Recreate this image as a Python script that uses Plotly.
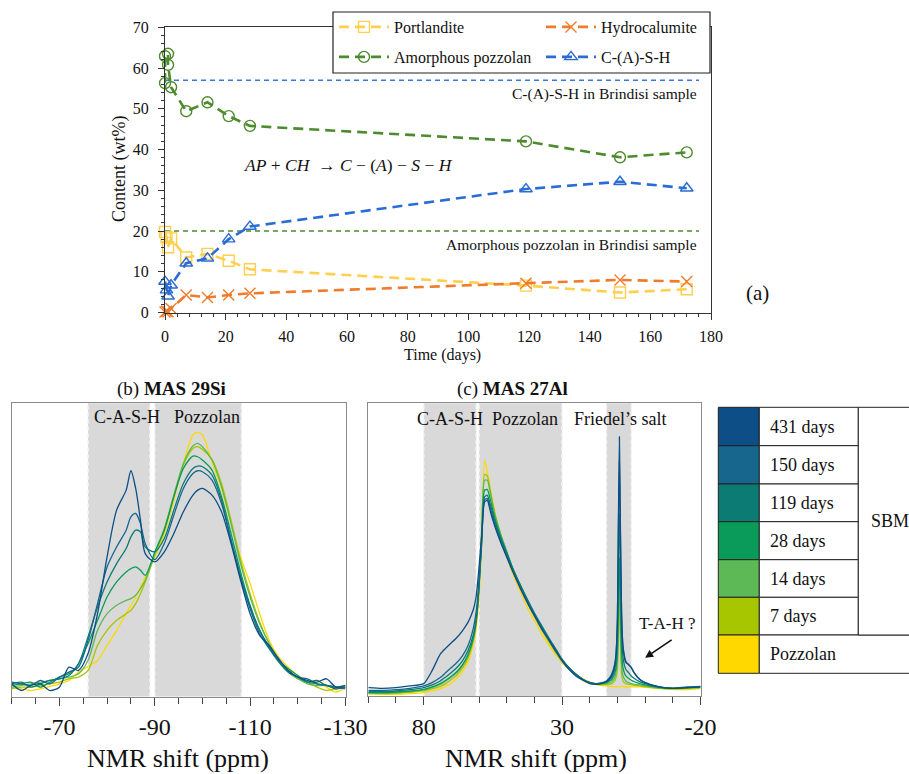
import plotly.graph_objects as go

W, H = 909, 774
def px(x): return x / W
def py(y): return 1 - y / H

SERIF = "Liberation Serif, 'Times New Roman', serif"

# ---------------- (a) time series ----------------
t_portlandite = [0, 0.5, 1, 2, 7, 14, 21, 28, 119, 150, 172]
portlandite = [19.8, 18.5, 16.0, 18.2, 13.5, 14.4, 12.7, 10.6, 6.6, 4.9, 5.7]
t_hydrocalumite = [0, 0.5, 1, 2, 7, 14, 21, 28, 119, 150, 172]
hydrocalumite = [0.1, 0.3, 0.2, 1.0, 4.3, 3.7, 4.3, 4.7, 7.2, 8.0, 7.6]
t_pozzolan = [0, 0, 1, 1, 2, 7, 14, 21, 28, 119, 150, 172]
amorphous_pozzolan = [56.3, 62.9, 63.5, 60.8, 55.3, 49.4, 51.6, 48.2, 45.8, 42.0, 38.1, 39.3]
t_cash = [0, 0.5, 1, 2, 7, 14, 21, 28, 119, 150, 172]
cash = [7.6, 5.5, 4.0, 6.7, 12.1, 13.3, 18.0, 21.1, 30.3, 32.1, 30.5]
cash_brindisi = 57
ap_brindisi = 20

# ---------------- (b) 29Si spectra (relative intensity) ----------------
si_shift = [-60, -62, -64, -66, -68, -70, -72, -74, -76, -78, -80, -82, -84, -85, -86, -87, -88,
            -90, -92, -94, -96, -98, -99, -100, -102, -104, -106, -108, -110, -112, -114, -116,
            -118, -120, -122, -124, -126, -128, -130]
si_pozzolan = [28, 23, 18, 23, 30, 38, 48, 73, 90, 108, 153, 198, 248, 273, 298, 328, 358, 418, 488, 588,
               698, 783, 791, 783, 703, 623, 518, 418, 338, 248, 168, 118, 88, 63, 43, 48, 28, 13, 28]
si_7d = [23, 28, 28, 33, 38, 43, 53, 58, 78, 153, 198, 228, 248, 258, 278, 308, 343, 423, 498, 598,
         693, 743, 748, 740, 710, 638, 528, 408, 308, 223, 158, 108, 73, 53, 43, 28, 18, 23, 28]
si_14d = [28, 33, 38, 43, 48, 53, 58, 68, 108, 198, 248, 273, 288, 293, 303, 323, 348, 428, 503, 603,
          698, 750, 758, 748, 708, 628, 518, 398, 298, 218, 158, 108, 73, 53, 38, 33, 33, 28, 33]
si_28d = [33, 38, 43, 28, 43, 58, 68, 98, 158, 228, 298, 343, 373, 383, 388, 378, 363, 433, 498, 598,
          683, 720, 718, 708, 678, 598, 488, 373, 273, 198, 148, 108, 83, 63, 43, 38, 33, 28, 28]
si_119d = [38, 43, 28, 38, 48, 53, 63, 98, 178, 268, 343, 398, 443, 478, 498, 493, 448, 433, 473, 558,
           638, 683, 690, 688, 663, 588, 468, 358, 263, 188, 143, 103, 73, 58, 43, 48, 33, 28, 23]
si_150d = [43, 38, 33, 48, 38, 58, 73, 88, 168, 278, 388, 448, 498, 538, 548, 518, 458, 410, 458, 543,
           623, 668, 676, 673, 648, 578, 468, 358, 268, 198, 148, 108, 78, 58, 53, 38, 33, 23, 28]
si_431d = [38, 18, 33, 38, 18, 28, 88, 78, 128, 248, 418, 558, 618, 676, 623, 528, 428, 403, 433, 488,
           553, 603, 618, 623, 603, 553, 458, 348, 248, 183, 153, 113, 78, 58, 48, 43, 53, 28, 33]
si_ticks = [-70, -90, -110, -130]
si_ticktext = ["-70", "-90", "-110", "-130"]

# ---------------- (c) 27Al spectra (relative intensity) ----------------
al_shift = [100, 95, 90, 85, 80, 77, 74, 72, 70, 68, 66, 64, 62, 61, 60, 59, 58, 57, 56, 55,
            54, 52, 50, 48, 45, 42, 40, 37, 35, 32, 30, 27, 25, 22, 20, 18, 16, 14, 13, 12,
            11, 10.5, 10, 9.7, 9.3, 8.9, 8.5, 8, 7, 6, 5, 4, 2, 0, -5, -10, -15, -20]
al_pozzolan = [7, 5, 5, 7, 10, 15, 22, 29, 39, 53, 73, 103, 157, 205, 295, 465, 705, 670, 625, 580,
               540, 475, 420, 370, 310, 255, 225, 180, 155, 120, 100, 77, 65, 50, 42, 35, 32, 30, 29, 28,
               28, 28, 28, 28, 28, 28, 28, 28, 27, 27, 27, 27, 27, 26, 23, 20, 19, 23]
al_7d = [7, 7, 8, 11, 15, 21, 29, 37, 49, 63, 83, 113, 167, 220, 325, 505, 663, 657, 617, 573,
         535, 477, 429, 380, 322, 270, 237, 192, 165, 127, 103, 75, 61, 45, 39, 35, 34, 34, 35, 37,
         45, 55, 80, 155, 300, 155, 65, 45, 37, 35, 33, 32, 30, 28, 23, 21, 23, 25]
al_14d = [9, 9, 10, 13, 18, 25, 35, 45, 57, 70, 90, 120, 173, 225, 325, 495, 645, 645, 610, 570,
          535, 480, 433, 385, 327, 275, 243, 197, 170, 130, 105, 77, 63, 47, 40, 37, 36, 37, 39, 43,
          55, 70, 105, 205, 370, 205, 95, 60, 45, 40, 37, 35, 33, 30, 25, 23, 23, 25]
al_28d = [10, 10, 12, 15, 20, 27, 37, 47, 59, 73, 93, 123, 175, 225, 325, 485, 615, 617, 590, 555,
          523, 473, 430, 385, 330, 278, 245, 200, 173, 133, 107, 79, 65, 47, 40, 37, 37, 40, 44, 50,
          67, 85, 140, 265, 415, 265, 135, 85, 60, 53, 47, 43, 37, 33, 25, 23, 25, 27]
al_119d = [13, 13, 15, 19, 25, 33, 45, 57, 70, 85, 105, 135, 185, 235, 325, 465, 595, 600, 575, 545,
           515, 467, 427, 385, 330, 280, 248, 205, 177, 137, 110, 80, 65, 47, 40, 37, 38, 42, 48, 57,
           80, 105, 185, 365, 545, 365, 185, 115, 80, 70, 60, 53, 43, 37, 27, 23, 25, 27]
al_150d = [17, 17, 19, 23, 30, 40, 55, 70, 85, 100, 120, 150, 205, 255, 345, 465, 587, 590, 565, 535,
           507, 460, 420, 380, 325, 275, 245, 200, 173, 133, 107, 80, 65, 47, 40, 37, 39, 45, 53, 67,
           95, 130, 235, 465, 700, 465, 245, 150, 105, 93, 85, 70, 50, 40, 27, 23, 27, 29]
al_431d = [25, 23, 25, 30, 37, 75, 125, 143, 159, 175, 195, 220, 260, 300, 385, 485, 580, 585, 555, 525,
           500, 455, 415, 375, 320, 270, 240, 195, 170, 130, 105, 75, 60, 45, 37, 35, 37, 43, 50, 63,
           90, 125, 235, 485, 775, 485, 245, 145, 100, 95, 85, 70, 50, 40, 27, 23, 25, 27]
al_ticks = [80, 30, -20]
al_ticktext = ["80", "30", "-20"]

# ---------------- legend table ----------------
sample_labels = ["431 days", "150 days", "119 days", "28 days", "14 days", "7 days", "Pozzolan"]
sample_colors = ["#0C4E85", "#16668E", "#0C7B73", "#0A9B5B", "#5CB956", "#A8C600", "#FFD800"]
si_series = [si_431d, si_150d, si_119d, si_28d, si_14d, si_7d, si_pozzolan]
al_series = [al_431d, al_150d, al_119d, al_28d, al_14d, al_7d, al_pozzolan]

fig = go.Figure()

series_a = [
    ("Portlandite", t_portlandite, portlandite, "#FFCF4D", "square-open", 11, "legend"),
    ("Hydrocalumite", t_hydrocalumite, hydrocalumite, "#F07B2C", "x-thin-open", 11, "legend2"),
    ("Amorphous pozzolan", t_pozzolan, amorphous_pozzolan, "#4E8A2E", "circle-open", 11, "legend3"),
    ("C-(A)-S-H", t_cash, cash, "#2A6CD3", "triangle-up-open", 11, "legend4"),
]
for name, tx, vy, col, sym, sz, lg in series_a:
    fig.add_trace(go.Scatter(
        x=tx, y=vy, name=name, mode="lines+markers", cliponaxis=False,
        line=dict(color=col, width=2.6, dash="10px,6px"),
        marker=dict(symbol=sym, size=sz, color=col, line=dict(color=col, width=1.4)),
        xaxis="x", yaxis="y", showlegend=True, legend=lg))

for lab, col, s_si, s_al in reversed(list(zip(sample_labels, sample_colors, si_series, al_series))):
    fig.add_trace(go.Scatter(x=si_shift, y=s_si, mode="lines",
                             line=dict(color=col, width=1.3, shape="spline", smoothing=0.8),
                             xaxis="x2", yaxis="y2", showlegend=False, name=lab))
    fig.add_trace(go.Scatter(x=al_shift, y=s_al, mode="lines",
                             line=dict(color=col, width=1.3, shape="spline", smoothing=0.6),
                             xaxis="x3", yaxis="y3", showlegend=False, name=lab))

shapes = []
for val, col in [(cash_brindisi, "#3A78DC"), (ap_brindisi, "#4E8A2E")]:
    shapes.append(dict(type="line", xref="x domain", yref="y", x0=0, x1=0.978, y0=val, y1=val,
                       line=dict(color=col, width=1.6, dash="5px,4px"), layer="below"))

def band(xa, ya, a, b):
    shapes.append(dict(type="rect", xref=xa, yref=ya + " domain", x0=a, x1=b, y0=0, y1=1,
                       fillcolor="#D9D9D9", line=dict(width=0), layer="below"))
    for v in (a, b):
        shapes.append(dict(type="line", xref=xa, yref=ya + " domain", x0=v, x1=v, y0=0, y1=1,
                           line=dict(color="#F4F4F4", width=1.6, dash="4px,3px"), layer="below"))
band("x2", "y2", -76, -89)
band("x2", "y2", -90, -108.2)
band("x3", "y3", 80, 61)
band("x3", "y3", 60, 30)
band("x3", "y3", 14, 5)

shapes.append(dict(type="rect", xref="paper", yref="paper", x0=px(333), x1=px(710), y0=py(73), y1=py(12),
                   fillcolor="white", line=dict(color="#222", width=1.2), layer="above"))

row_edges = [407.3, 445.7, 484.0, 521.7, 559.7, 597.3, 635.0, 673.3]
c0, c1, c2, c3 = 718.3, 759.3, 858.3, 915
annotations = []
for i, (lab, col) in enumerate(zip(sample_labels, sample_colors)):
    y0, y1 = row_edges[i], row_edges[i + 1]
    shapes.append(dict(type="rect", xref="paper", yref="paper", x0=px(c0), x1=px(c1), y0=py(y1), y1=py(y0),
                       fillcolor=col, line=dict(color="#222", width=1)))
    right = c2 if i < 6 else c3
    shapes.append(dict(type="rect", xref="paper", yref="paper", x0=px(c1), x1=px(right), y0=py(y1), y1=py(y0),
                       fillcolor="white", line=dict(color="#222", width=1)))
    annotations.append(dict(xref="paper", yref="paper", x=px(768), y=py((y0 + y1) / 2), text=lab, showarrow=False,
                            xanchor="left", yanchor="middle", font=dict(size=18, color="#111")))
shapes.append(dict(type="rect", xref="paper", yref="paper", x0=px(c2), x1=px(c3), y0=py(row_edges[6]),
                   y1=py(row_edges[0]), fillcolor="white", line=dict(color="#222", width=1)))
annotations.append(dict(xref="paper", yref="paper", x=px(869), y=py((row_edges[0] + row_edges[6]) / 2), text="SBM",
                        showarrow=False, xanchor="left", yanchor="middle", font=dict(size=18, color="#111")))

def label(xp, yp, text, size, **kw):
    d = dict(xref="paper", yref="paper", x=px(xp), y=py(yp), text=text, showarrow=False,
             xanchor="center", yanchor="middle", font=dict(size=size))
    d.update(kw)
    return d

annotations += [
    label(120, 169, "Content (wt%)", 18, textangle=-90),
    label(442, 355, "Time (days)", 16),
    label(757, 293, "(a)", 21),
    dict(xref="x", yref="y", x=176, y=cash_brindisi, text="C-(A)-S-H in Brindisi sample", showarrow=False,
         xanchor="right", yanchor="top", yshift=-3, font=dict(size=15.5)),
    dict(xref="x", yref="y", x=176, y=ap_brindisi, text="Amorphous pozzolan in Brindisi sample", showarrow=False,
         xanchor="right", yanchor="top", yshift=-3, font=dict(size=15.5)),
    label(348, 165, "<i>AP</i> + <i>CH</i>  → <i>C</i> − (<i>A</i>) − <i>S</i> − <i>H</i>", 17.5),
    label(171, 389, "(b) <b>MAS 29Si</b>", 19),
    label(512, 389, "(c) <b>MAS 27Al</b>", 19),
    label(127, 417, "C-A-S-H", 18),
    label(207, 417, "Pozzolan", 18),
    label(450, 419, "C-A-S-H", 18),
    label(525, 419, "Pozzolan", 18),
    label(620, 419, "Friedel’s salt", 18),
    label(667, 623, "T-A-H ?", 17),
    dict(xref="x3", yref="y3", x=0, y=114, ax=28, ay=-19, text="", showarrow=True, arrowhead=2, arrowsize=1,
         arrowwidth=1.6, arrowcolor="#111"),
    label(178, 758, "NMR shift (ppm)", 26),
    label(536, 758, "NMR shift (ppm)", 26),
]

axcol = "#333"
spec_axis = dict(showline=True, linecolor="#8A8A8A", linewidth=1.2, mirror=True, showgrid=False, zeroline=False,
                 ticks="outside", ticklen=8, tickcolor="#444", tickwidth=1, tickfont=dict(size=24),
                 ticklabelstandoff=1, tickmode="array")
spec_yaxis = dict(showline=True, linecolor="#8A8A8A", linewidth=1.2, mirror=True, showgrid=False, zeroline=False,
                  showticklabels=False, ticks="")

def leg(xp, yp):
    return dict(orientation="h", x=px(xp), y=py(yp), xanchor="left", yanchor="middle",
                bgcolor="rgba(0,0,0,0)", borderwidth=0, font=dict(size=16), itemwidth=50)

fig.update_layout(
    width=W, height=H, margin=dict(l=0, r=0, t=0, b=0, autoexpand=False),
    paper_bgcolor="white", plot_bgcolor="white",
    font=dict(family=SERIF, color="#111", size=16),
    xaxis=dict(domain=[px(165), px(711)], range=[0, 180], anchor="y", showline=True, linecolor=axcol, linewidth=1.2,
               mirror=True, ticks="outside", ticklen=6, tickcolor=axcol, dtick=20, tick0=0,
               minor=dict(dtick=4, ticks="outside", ticklen=3, tickcolor=axcol), showgrid=False, zeroline=False,
               tickfont=dict(size=16), ticklabelstandoff=3),
    yaxis=dict(domain=[py(312.5), py(27.3)], range=[0, 70], anchor="x", showline=True, linecolor=axcol, linewidth=1.2,
               mirror=True, ticks="outside", ticklen=6, tickcolor=axcol, dtick=10, tick0=0,
               minor=dict(dtick=2, ticks="outside", ticklen=3, tickcolor=axcol), showgrid=False, zeroline=False,
               tickfont=dict(size=16), ticklabelstandoff=6),
    xaxis2=dict(domain=[px(11.7), px(345.5)], range=[-60, -130], anchor="y2", tickvals=si_ticks, ticktext=si_ticktext,
                minor=dict(tick0=-60, dtick=5, ticks="outside", ticklen=6, tickcolor="#444"), **spec_axis),
    yaxis2=dict(domain=[py(696.5), py(403.3)], range=[0, 878], anchor="x2", **spec_yaxis),
    xaxis3=dict(domain=[px(368.3), px(700.5)], range=[100, -20], anchor="y3", tickvals=al_ticks, ticktext=al_ticktext,
                minor=dict(tick0=0, dtick=10, ticks="outside", ticklen=6, tickcolor="#444"), **spec_axis),
    yaxis3=dict(domain=[py(696.0), py(403.3)], range=[0, 875], anchor="x3", **spec_yaxis),
    legend=leg(334, 27), legend2=leg(541, 27), legend3=leg(334, 57), legend4=leg(541, 57),
    shapes=shapes, annotations=annotations,
)

fig.write_html("out.html")
